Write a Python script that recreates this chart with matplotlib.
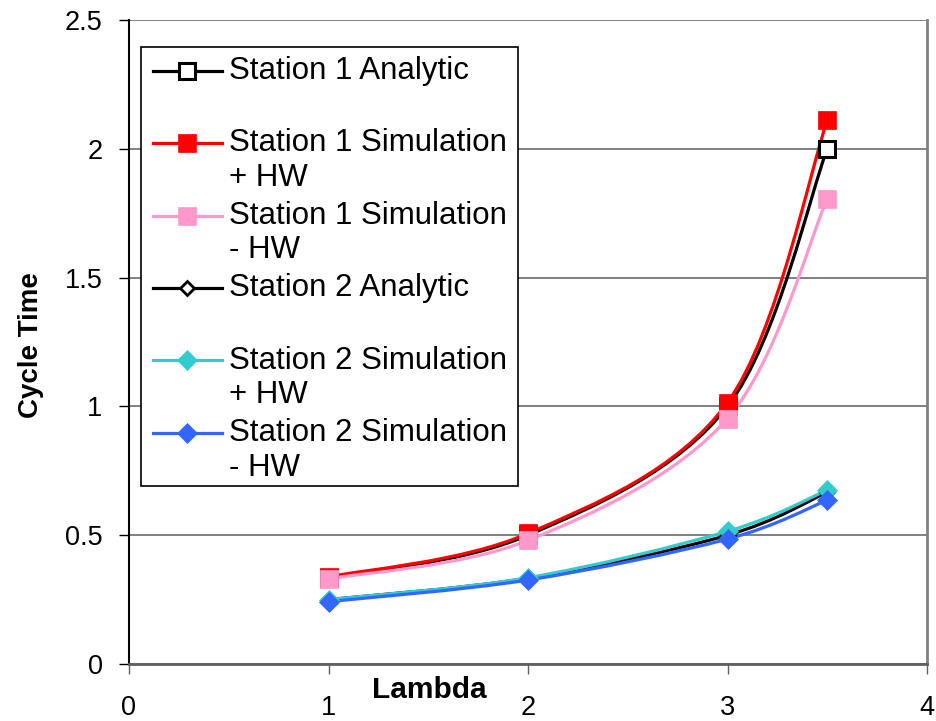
import matplotlib
matplotlib.use("Agg")
import matplotlib.pyplot as plt
from matplotlib.path import Path
from matplotlib.patches import PathPatch, Rectangle
from matplotlib.lines import Line2D
from matplotlib.legend_handler import HandlerLine2D

plt.rcParams['font.family'] = ['Liberation Sans', 'DejaVu Sans']

# Arrival rate values and cycle times per series
lam = [1, 2, 3, 3.5]
s1_analytic = [0.333, 0.5, 1.0, 2.0]
s1_sim_plus = [0.338, 0.507, 1.015, 2.11]
s1_sim_minus = [0.33, 0.48, 0.953, 1.806]
s2_analytic = [0.25, 0.333, 0.5, 0.667]
s2_sim_plus = [0.25, 0.335, 0.515, 0.675]
s2_sim_minus = [0.242, 0.326, 0.485, 0.636]

labels = ["Station 1 Analytic\n",
          "Station 1 Simulation\n+ HW",
          "Station 1 Simulation\n- HW",
          "Station 2 Analytic\n",
          "Station 2 Simulation\n+ HW",
          "Station 2 Simulation\n- HW"]

x_ticks = [0, 1, 2, 3, 4]
y_ticks = [0, 0.5, 1, 1.5, 2, 2.5]

series = [s1_analytic, s1_sim_plus, s1_sim_minus,
          s2_analytic, s2_sim_plus, s2_sim_minus]
styles = [
    dict(color='black', marker='s', ms=11, mfc='white', mec='black', mew=2.2),
    dict(color='#FF0000', marker='s', ms=12.5, mfc='#FF0000', mec='#FF0000', mew=0.5),
    dict(color='#FF99CC', marker='s', ms=12.5, mfc='#FF99CC', mec='#FF99CC', mew=0.5),
    dict(color='black', marker='D', ms=7.5, mfc='white', mec='black', mew=2),
    dict(color='#33CCCC', marker='D', ms=10.5, mfc='#33CCCC', mec='#33CCCC', mew=0.5),
    dict(color='#3366FF', marker='D', ms=10.5, mfc='#3366FF', mec='#3366FF', mew=0.5),
]


def smooth_path(xs, ys):
    """Cubic Bezier path through the points (Catmull-Rom style smoothing)."""
    pts = list(zip(xs, ys))
    n = len(pts)
    verts = [pts[0]]
    codes = [Path.MOVETO]
    for i in range(n - 1):
        p0 = pts[i - 1] if i > 0 else pts[i]
        p1 = pts[i]
        p2 = pts[i + 1]
        p3 = pts[i + 2] if i + 2 < n else pts[i + 1]
        c1 = (p1[0] + (p2[0] - p0[0]) / 6, p1[1] + (p2[1] - p0[1]) / 6)
        c2 = (p2[0] - (p3[0] - p1[0]) / 6, p2[1] - (p3[1] - p1[1]) / 6)
        verts += [c1, c2, p2]
        codes += [Path.CURVE4] * 3
    return Path(verts, codes)


class TopLineHandler(HandlerLine2D):
    """Legend handle placed beside the first line of a two-line label."""
    def __init__(self, shift, **kw):
        super().__init__(**kw)
        self.shift = shift

    def create_artists(self, legend, orig_handle, xdescent, ydescent,
                       width, height, fontsize, trans):
        return super().create_artists(legend, orig_handle, xdescent,
                                      ydescent - self.shift, width, height,
                                      fontsize, trans)


W, H = 936, 721
fig = plt.figure(figsize=(W / 100, H / 100), dpi=100)
L, R, T, B = 129, 927, 20, 664
ax = fig.add_axes([L / W, (H - B) / H, (R - L) / W, (B - T) / H])


def ax_x(px):
    return (px - L) / (R - L)


def ax_y(py):
    return (B - py) / (B - T)


ax.set_xlim(0, 4)
ax.set_ylim(0, 2.5)
ax.set_xticks(x_ticks)
ax.set_xticklabels([str(v) for v in x_ticks])
ax.set_yticks(y_ticks)
ax.set_yticklabels(['0', '0.5', '1', '1.5', '2', '2.5'])

ax.grid(axis='y', color='#808080', lw=1.4)
ax.set_axisbelow(True)
ax.spines['top'].set_visible(False)
ax.spines['right'].set_color('#808080')
ax.spines['right'].set_linewidth(2)
ax.spines['left'].set_color('black')
ax.spines['left'].set_linewidth(1.5)
ax.spines['bottom'].set_color('#606060')
ax.spines['bottom'].set_linewidth(2)

ax.tick_params(axis='y', direction='out', length=7, width=1, pad=12,
               labelsize=19.5, colors='black')
ax.tick_params(axis='x', direction='out', length=7, width=1, pad=15,
               labelsize=19.5, colors='black')
ax.tick_params(axis='x', color='#606060')

# Lines first, then markers on top
for i, (ys, st) in enumerate(zip(series, styles)):
    patch = PathPatch(smooth_path(lam, ys), fill=False, edgecolor=st['color'],
                      lw=2.3, transform=ax.transData, zorder=2 + i * 0.01,
                      capstyle='round', joinstyle='round')
    ax.add_patch(patch)
for i, (ys, st) in enumerate(zip(series, styles)):
    ax.plot(lam, ys, ls='none', marker=st['marker'], ms=st['ms'],
            mfc=st['mfc'], mec=st['mec'], mew=st['mew'], zorder=3 + i * 0.01,
            clip_on=False)

ax.set_xlabel('Lambda', fontsize=21.5, fontweight='bold')
ax.xaxis.set_label_coords(ax_x(429), ax_y(690))
ax.xaxis.label.set_va('center')
ax.set_ylabel('Cycle Time', fontsize=20, fontweight='bold')
ax.yaxis.set_label_coords(ax_x(31), ax_y(345))
ax.yaxis.label.set_va('center')

# Legend box
box = Rectangle((ax_x(141), ax_y(486)), ax_x(518) - ax_x(141),
                ax_y(47) - ax_y(486), transform=ax.transAxes,
                facecolor='white', edgecolor='black', lw=1.2, zorder=9)
ax.add_patch(box)

handles = [Line2D([], [], color=st['color'], lw=2.3, marker=st['marker'],
                  ms=st['ms'], mfc=st['mfc'], mec=st['mec'], mew=st['mew'])
           for st in styles]
fs = 22.5
leg = ax.legend(handles, labels, loc='upper left',
                bbox_to_anchor=(ax_x(141), ax_y(44)),
                borderaxespad=0, fontsize=fs, frameon=False,
                handlelength=2.2, handletextpad=0.25, labelspacing=0.25,
                borderpad=0.38,
                handler_map={Line2D: TopLineHandler(shift=26, numpoints=1)})
for t in leg.get_texts():
    t.set_linespacing(1.2)
leg.set_zorder(10)

fig.savefig('out.png', dpi=100, facecolor='white')
